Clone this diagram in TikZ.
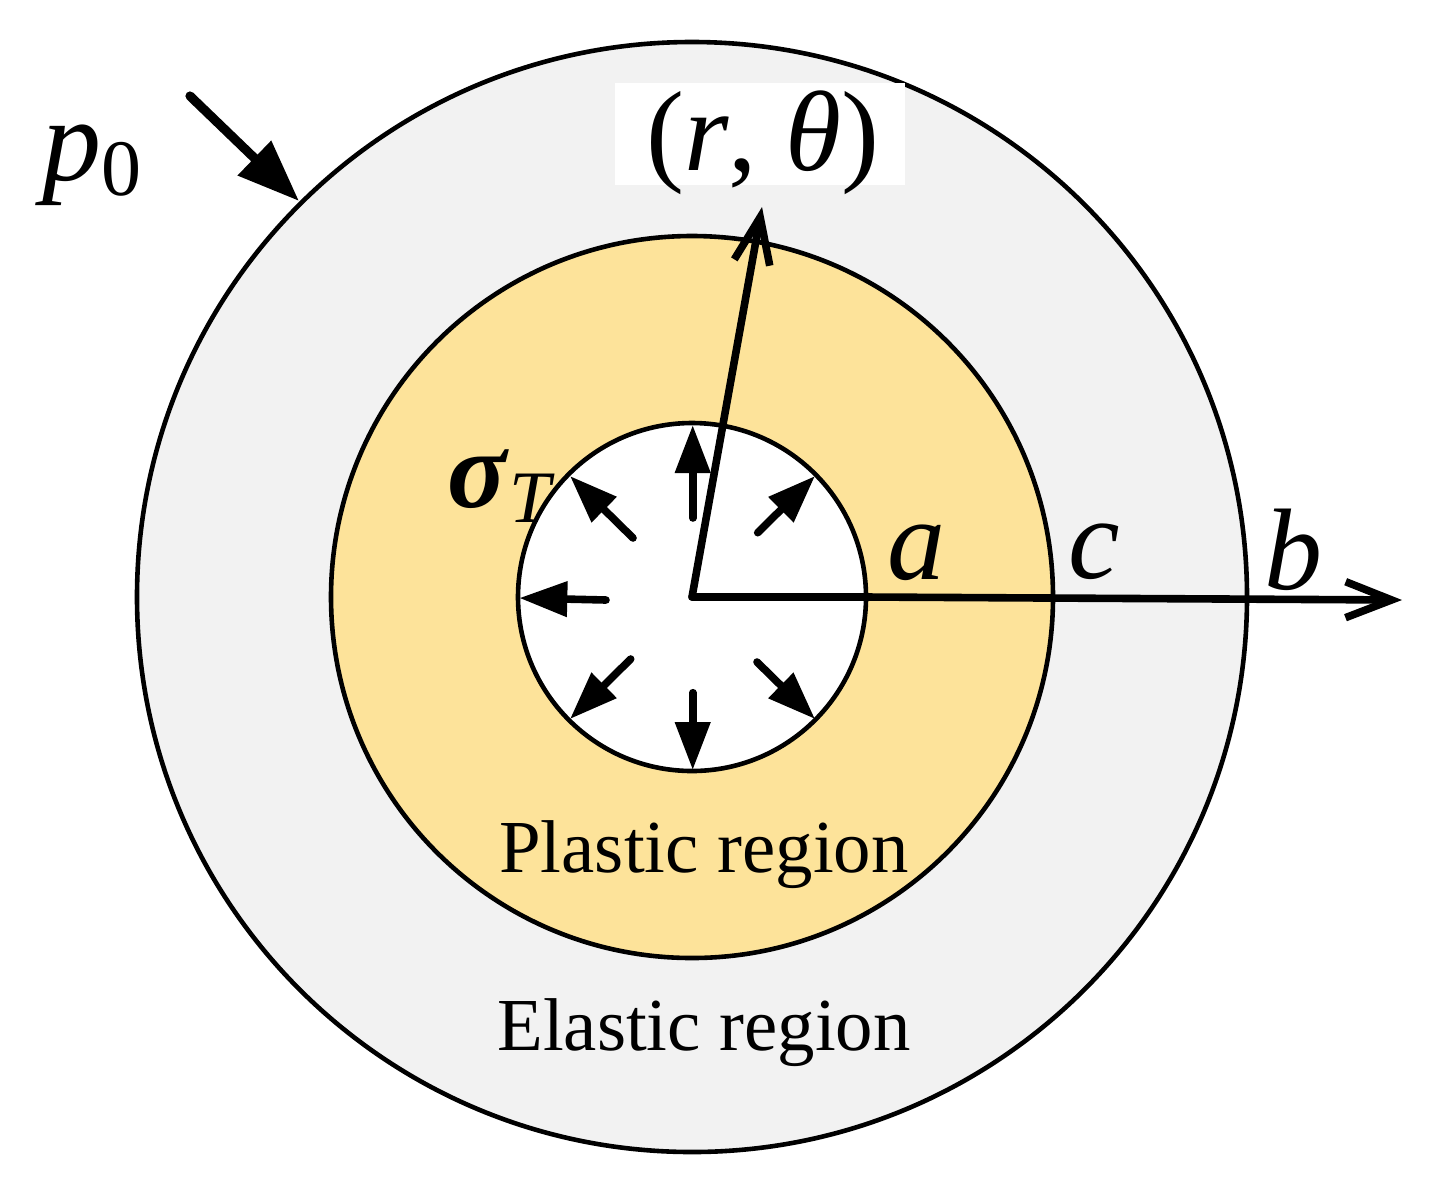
\documentclass[tikz,border=0pt]{standalone}
\usepackage{fontspec}
\setmainfont{Liberation Serif}
\usetikzlibrary{arrows.meta}
\definecolor{plasticfill}{HTML}{FDE39A}
\definecolor{elasticfill}{HTML}{F2F2F2}
\newcommand{\fs}[1]{\fontsize{#1}{#1}\selectfont}
\tikzset{
  ringline/.style={draw=black,line width=2.3pt},
  pressure/.style={line width=3.8pt,line cap=round,-{Triangle[length=24pt,width=17pt]}},
  bigpressure/.style={line width=4.6pt,line cap=round,-{Triangle[length=31pt,width=23pt]}},
  axisline/.style={line width=3.8pt,line cap=round,-{Straight Barb[length=23pt,width=18pt,line width=3.8pt]}},
  lbl/.style={inner sep=0pt,anchor=base west,text=black},
  region/.style={inner sep=0pt,anchor=base,text=black,font=\fs{37.4}}
}
\begin{document}
\begin{tikzpicture}[x=0.5pt,y=-0.5pt]
\useasboundingbox (0,0) rectangle (1449,1184);
\fill[white] (0,0) rectangle (1449,1184);
\coordinate (O) at (692,597);
\draw[ringline,fill=elasticfill] (O) circle[radius=555];
\draw[ringline,fill=plasticfill] (O) circle[radius=361];
\draw[ringline,fill=white] (O) circle[radius=174];
\node[fill=white,inner sep=0pt,minimum width=145pt,minimum height=51pt,anchor=north west] (labelbg) at (615,83) {};
% axes
\coordinate (rtip) at (762,207);
\coordinate (btip) at (1402,600);
\draw[axisline] (O) -- (rtip);
\draw[axisline] (O) -- (692+174,597) -- (btip);
% inner pressure arrows
\coordinate (t1) at (692.7,518); \coordinate (h1) at (692.7,425);
\coordinate (t2) at (757.7,532.7); \coordinate (h2) at (815,476);
\coordinate (t3) at (633,538); \coordinate (h3) at (570,476);
\coordinate (t4) at (606,600); \coordinate (h4) at (519.3,598);
\coordinate (t5) at (630.7,659); \coordinate (h5) at (570,719);
\coordinate (t6) at (757,662); \coordinate (h6) at (815,719);
\coordinate (t7) at (692.7,692.7); \coordinate (h7) at (692.7,770);
\foreach \i in {1,...,7} \draw[pressure] (t\i) -- (h\i);
% outer pressure arrow
\coordinate (pt) at (190,96); \coordinate (ph) at (299,201);
\draw[bigpressure] (pt) -- (ph);
% labels
\node[lbl,font=\fs{57}] (rt) at (646,170) {(\textit{r}, \textit{θ})};
\node[lbl,font=\fs{59}] (p0) at (42,180) {\textit{p}\raisebox{-0.13em}{\fs{40}0}};
\node[lbl,font=\fs{58}] (la) at (887,579) {\textit{a}};
\node[lbl,font=\fs{58}] (lc) at (1068,578) {\textit{c}};
\node[lbl,font=\fs{58}] (lb) at (1264,589) {\textit{b}};
\node[lbl,font=\fs{55}] (ls) at (447,507) {\textbf{\textit{σ}}\raisebox{-0.14em}{\fs{37}\textit{T}}};
\node[region] (pr) at (704,872) {Plastic region};
\node[region] (er) at (704,1050) {Elastic region};
\end{tikzpicture}
\end{document}
